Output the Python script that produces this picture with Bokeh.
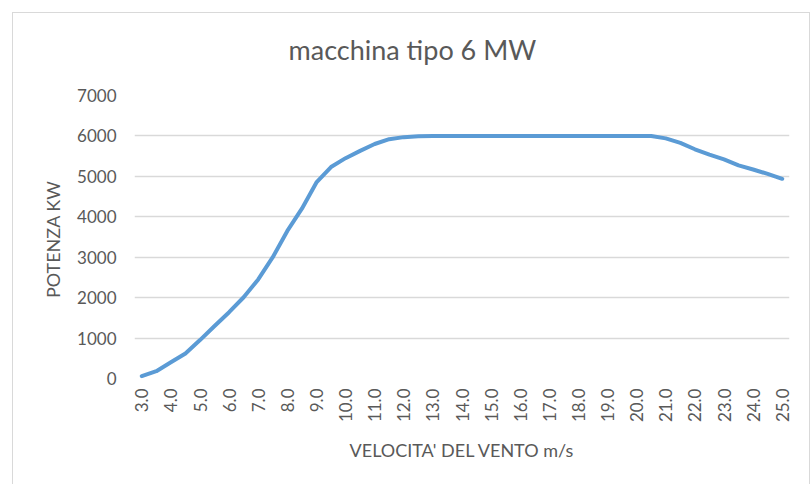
from bokeh.plotting import figure
from bokeh.models import Range1d, FixedTicker, CustomJSTickFormatter
from bokeh.embed import file_html
from bokeh.resources import INLINE
import math

title_text = "macchina tipo 6 MW"
x_label = "VELOCITA' DEL VENTO m/s"
y_label = "POTENZA  KW"

wind_speed = [3.0 + 0.5 * i for i in range(45)]
power_kw = [60, 180, 400, 620, 950, 1300, 1640, 2010, 2450, 3000,
            3650, 4200, 4850, 5230, 5450, 5630, 5800, 5920, 5970, 5990,
            6000, 6000, 6000, 6000, 6000, 6000, 6000, 6000,
            6000, 6000, 6000, 6000, 6000, 6000, 6000, 6000,
            5940, 5830, 5670, 5540, 5420, 5270, 5170, 5060, 4940]
x_ticks = [float(v) for v in range(3, 26)]
y_ticks = [0, 1000, 2000, 3000, 4000, 5000, 6000, 7000]

TXT = "#595959"
FONT = "Lato"
EDGE = "linear-gradient(#d9d9d9,#d9d9d9)"

p = figure(width=810, height=484, output_backend="svg", toolbar_location=None,
           x_range=Range1d(2.75, 25.25), y_range=Range1d(0, 7000),
           min_border_left=134, min_border_right=21, min_border_top=94,
           min_border_bottom=106)
p.border_fill_color = None
p.styles = {
    "background": (f"{EDGE} 12px 12px / 798px 1px no-repeat, "
                   f"{EDGE} 12px 12px / 1px 472px no-repeat, "
                   f"{EDGE} 809px 12px / 1px 472px no-repeat, #ffffff"),
}

p.title.text = title_text
p.title.align = "left"
p.title.offset = 154
p.title.text_font = FONT
p.title.text_font_size = "27px"
p.title.text_font_style = "normal"
p.title.text_color = TXT
p.title.standoff = 60

p.line(wind_speed, power_kw, line_color="#5b9bd5", line_width=4,
       line_join="round", line_cap="round")

p.outline_line_color = None
p.xgrid.grid_line_color = None
p.ygrid.grid_line_color = "#d9d9d9"
p.ygrid.grid_line_width = 1.3

p.xaxis.ticker = FixedTicker(ticks=x_ticks)
p.xaxis.formatter = CustomJSTickFormatter(code="return tick.toFixed(1);")
p.xaxis.major_label_orientation = math.pi / 2
p.yaxis.ticker = FixedTicker(ticks=y_ticks)

for ax in (p.xaxis, p.yaxis):
    ax.axis_line_color = None
    ax.major_tick_line_color = None
    ax.minor_tick_line_color = None
    ax.major_tick_out = 0
    ax.major_tick_in = 0
    ax.major_label_text_font = FONT
    ax.major_label_text_font_size = "17px"
    ax.major_label_text_color = TXT
    ax.axis_label_text_font = FONT
    ax.axis_label_text_font_size = "18px"
    ax.axis_label_text_font_style = "normal"
    ax.axis_label_text_color = TXT

p.xaxis.axis_label = x_label
p.yaxis.axis_label = y_label
p.xaxis.major_label_standoff = 10
p.yaxis.major_label_standoff = 18
p.xaxis.axis_label_standoff = 14
p.yaxis.axis_label_standoff = 10

open("out.html", "w").write(file_html(p, INLINE))
